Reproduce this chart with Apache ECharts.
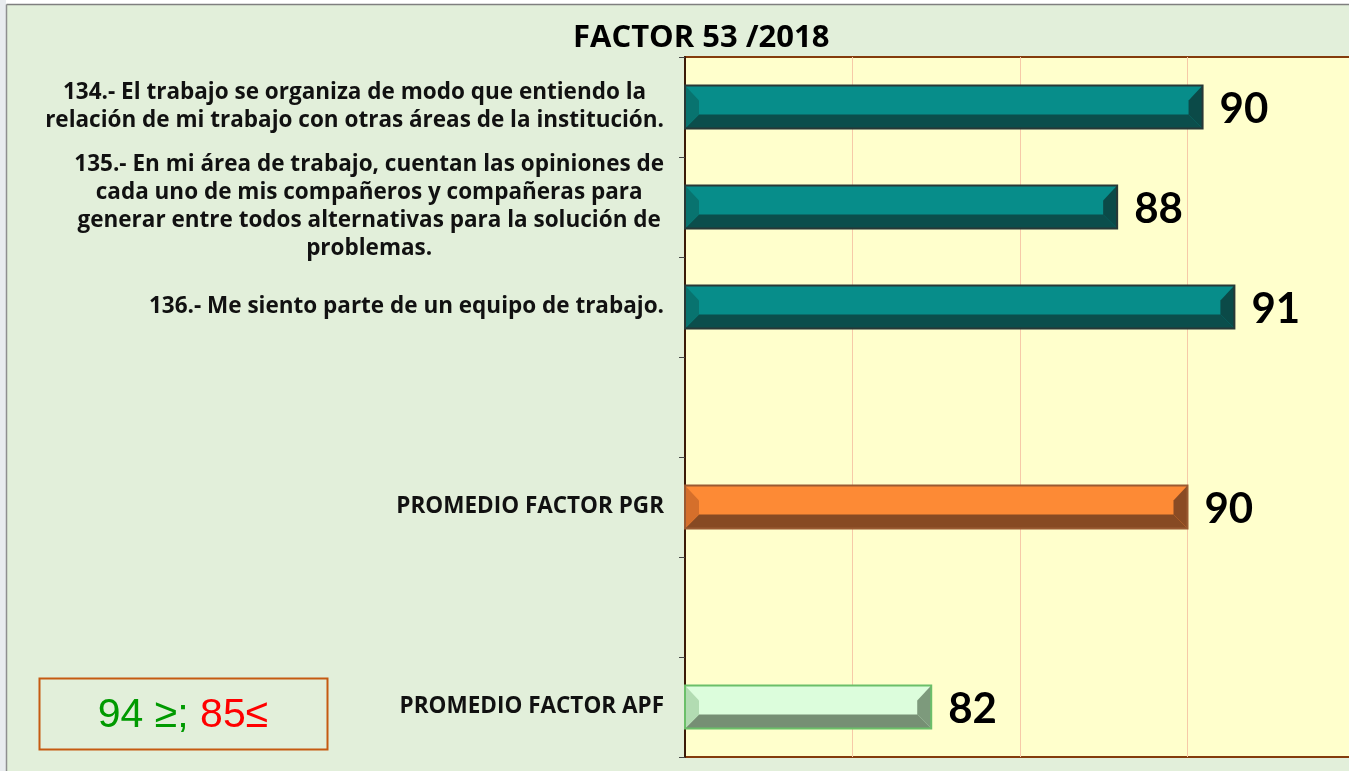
<!DOCTYPE html>
<html>
<head>
<meta charset="utf-8">
<script src="https://cdn.jsdelivr.net/npm/echarts@6/dist/echarts.min.js"></script>
<style>
  html, body { margin: 0; padding: 0; background: #ffffff; overflow: hidden; }
  #main { width: 1355px; height: 771px; }
</style>
</head>
<body>
<div id="main"></div>
<script>
// datos del grafico
const titulo = 'FACTOR 53 /2018';
const categories = [
  '134.- El trabajo se organiza de modo que entiendo la\nrelación de mi trabajo con otras áreas de la institución.',
  '135.- En mi área de trabajo, cuentan las opiniones de\ncada uno de mis compañeros y compañeras para\ngenerar entre todos alternativas para la solución de\nproblemas.',
  '136.- Me siento parte de un equipo de trabajo.',
  '',
  'PROMEDIO FACTOR PGR',
  '',
  'PROMEDIO FACTOR APF'
];
const values = [90.45, 87.9, 91.4, null, 90.0, null, 82.35];
const barKind = ['item', 'item', 'item', null, 'pgr', null, 'apf'];
const axisMin = 75, axisMax = 95, axisStep = 5;
const rangoVerde = '94 ≥; ';
const rangoRojo = '85≤';

// colores de las barras (cara, abajo, bisel izq, bisel der, borde)
const palette = {
  item: { face: '#078d8a', bottom: '#0b4e4c', left: '#08736f', right: '#0b4a48', border: '#283836' },
  pgr:  { face: '#fd8a35', bottom: '#874a23', left: '#d56f2b', right: '#8a4b24', border: '#9a5a32' },
  apf:  { face: '#dcfddc', bottom: '#768f74', left: '#b2dcb2', right: '#7d9a7c', border: '#6bbf69' }
};

const barData = [];
values.forEach(function (v, i) {
  if (v !== null) barData.push([v, i]);
});

const myChart = echarts.init(document.getElementById('main'));

function renderBar(params, api) {
  const v = api.value(0);
  const ci = api.value(1);
  const end = api.coord([v, ci]);
  const start = api.coord([axisMin, ci]);
  const c = palette[barKind[ci]];
  const h = 43, b = 14, t = 15, bb = 14;
  const x0 = start[0], x1 = end[0];
  const y0 = end[1] - h / 2, y1 = end[1] + h / 2;
  return {
    type: 'group',
    children: [
      { type: 'rect', shape: { x: x0, y: y0, width: x1 - x0, height: h }, style: { fill: c.face } },
      { type: 'polygon', shape: { points: [[x0, y1], [x0 + b, y1 - bb], [x1 - b, y1 - bb], [x1, y1]] }, style: { fill: c.bottom } },
      { type: 'polygon', shape: { points: [[x0, y0], [x0 + b, y0 + t], [x0 + b, y1 - bb], [x0, y1]] }, style: { fill: c.left } },
      { type: 'polygon', shape: { points: [[x1, y0], [x1, y1], [x1 - b, y1 - bb], [x1 - b, y0 + t]] }, style: { fill: c.right } },
      { type: 'rect', shape: { x: x0, y: y0, width: x1 - x0, height: h }, style: { fill: 'none', stroke: c.border, lineWidth: 2 } },
      { type: 'text', style: {
          text: String(Math.round(v)), x: x1 + 17, y: end[1] + 2,
          align: 'left', verticalAlign: 'middle',
          font: 'bold 42px Lato', fill: '#000'
        } }
    ]
  };
}

myChart.setOption({
  backgroundColor: '#e2efda',
  animation: false,
  title: {
    text: titulo,
    left: 568,
    top: 18,
    textStyle: { fontFamily: 'Open Sans', fontWeight: 'bold', fontSize: 31, color: '#000' }
  },
  grid: {
    left: 685, right: 0, top: 57, bottom: 14,
    show: true, backgroundColor: '#ffffcc', borderColor: '#843c0c', borderWidth: 2
  },
  xAxis: {
    type: 'value',
    min: axisMin, max: axisMax, interval: axisStep,
    axisLabel: { show: false },
    axisLine: { show: false },
    axisTick: { show: false },
    splitLine: { show: true, lineStyle: { color: '#f6c9a8', width: 1 } }
  },
  yAxis: {
    type: 'category',
    inverse: true,
    data: categories,
    axisLine: { show: true, lineStyle: { color: '#3b1a08', width: 2 } },
    axisTick: { show: true, length: 6, lineStyle: { color: '#444' } },
    axisLabel: {
      margin: 21,
      align: 'right',
      formatter: function (val) {
        if (!val) return '';
        return val.split('\n').map(function (l) { return '{c|' + l + '}'; }).join('\n');
      },
      rich: {
        c: { align: 'center', fontFamily: 'Open Sans', fontWeight: 'bold', fontSize: 22.5, lineHeight: 28, color: '#111' }
      }
    }
  },
  graphic: [
    { type: 'rect', shape: { x: 0, y: 0, width: 1355, height: 4 }, style: { fill: '#ffffff' } },
    { type: 'rect', shape: { x: 0, y: 0, width: 6, height: 771 }, style: { fill: '#e9ecef' } },
    { type: 'line', shape: { x1: 6.5, y1: 4.5, x2: 1355, y2: 4.5 }, style: { stroke: '#7f7f7f', lineWidth: 1.5 } },
    { type: 'line', shape: { x1: 6.5, y1: 4.5, x2: 6.5, y2: 771 }, style: { stroke: '#8f8f8f', lineWidth: 1.5 } },
    { type: 'rect', shape: { x: 39.5, y: 678.5, width: 288, height: 71 }, style: { fill: 'none', stroke: '#c55a11', lineWidth: 2 } },
    { type: 'text', x: 183, y: 716, style: {
        text: '{g|' + rangoVerde + '}{r|' + rangoRojo + '}',
        align: 'center', verticalAlign: 'middle',
        rich: {
          g: { fontFamily: 'Liberation Sans', fontSize: 41, fill: '#009a00' },
          r: { fontFamily: 'Liberation Sans', fontSize: 41, fill: '#ff0000' }
        }
      } }
  ],
  series: [{
    type: 'custom',
    renderItem: renderBar,
    encode: { x: 0, y: 1 },
    data: barData,
    clip: false
  }]
});
</script>
</body>
</html>
